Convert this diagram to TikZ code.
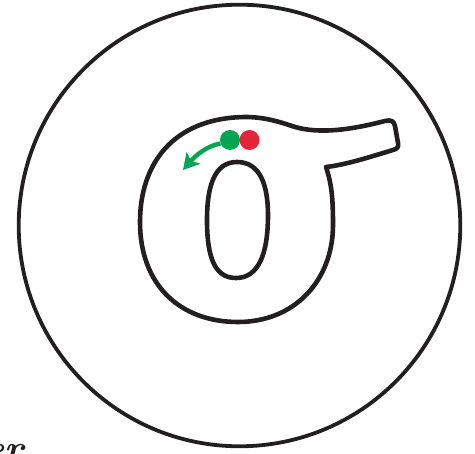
\documentclass[tikz,border=0pt]{standalone}
\usetikzlibrary{arrows.meta}
\definecolor{ink}{RGB}{35,31,32}
\definecolor{dotgreen}{RGB}{0,166,81}
\definecolor{dotred}{RGB}{225,37,58}
\begin{document}
\begin{tikzpicture}[x=1pt,y=-1pt,
  outline/.style={draw=ink,line width=4.6pt,line join=round},
  dotstyle/.style={circle,inner sep=0pt,minimum size=20pt},
  turn/.style={draw=dotgreen,line width=4.4pt,-{Stealth[length=16pt,width=18pt,inset=4pt]}}]
\useasboundingbox (0,0) rectangle (475,454);
% large circle
\draw[draw=ink,line width=3.8pt] (239.5,225.5) circle [radius=220.8];
% sigma outer contour
\path[outline] (326,167)
  .. controls (332,185) and (333,200) .. (333,225)
  .. controls (333,280) and (295,322) .. (238,322)
  .. controls (180,322) and (140,285) .. (140,222)
  .. controls (140,165) and (172,118) .. (245,117)
  .. controls (265,117) and (280,122) .. (295,127)
  .. controls (320,134) and (350,130) .. (385,121)
  .. controls (391,119.5) and (394,121) .. (395,126)
  -- (398,143)
  .. controls (399,147) and (397,149) .. (393,150)
  .. controls (370,157) and (345,165) .. (326,167) -- cycle;
% inner hole
\path[outline] (237,162)
  .. controls (260,162) and (268,185) .. (268,215)
  .. controls (268,255) and (258,278) .. (236,278)
  .. controls (215,278) and (207,258) .. (207,220)
  .. controls (207,185) and (215,162) .. (237,162) -- cycle;
% dots
\node[dotstyle,fill=dotgreen] (g) at (230,140) {};
\node[dotstyle,fill=dotred] (r) at (249.5,140) {};
\coordinate (tip) at (183,170);
\draw[turn] (g.200) .. controls (207,146) and (196,155) .. (tip);
% cut-off label
\node[anchor=base east,inner sep=0pt,text=ink] (lbl) at (24,462) {\fontsize{38}{44}\selectfont\bfseries\itshape er};
\end{tikzpicture}
\end{document}
